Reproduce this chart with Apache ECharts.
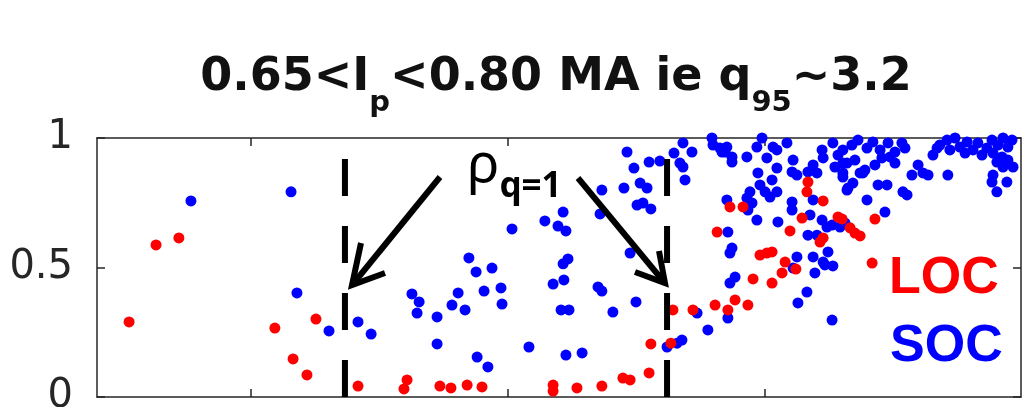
<!DOCTYPE html>
<html>
<head>
<meta charset="utf-8">
<script src="https://cdn.jsdelivr.net/npm/echarts@6/dist/echarts.min.js"></script>
<style>
html,body{margin:0;padding:0;background:#fff;}
#c{width:1033px;height:407px;}
</style>
</head>
<body>
<div id="c"></div>
<script>
// x axis range (labels are cut off in the reference) and tick positions
const xRange = [0, 3.6];
const xTickValues = [0.6, 1.6, 2.6];
const yRange = [0, 1];
const yInterval = 0.5;
// positions of the two rho_{q=1} dashed markers
const rhoQ1 = [0.966, 2.221];

// LOC points (red)
const locPoints = [
 [0.125,0.290],[0.230,0.587],[0.319,0.614],[0.693,0.266],[0.764,0.147],[0.853,0.301],[0.818,0.085],
 [1.017,0.042],[1.196,0.031],[1.208,0.066],[1.336,0.042],[1.379,0.035],[1.442,0.046],[1.500,0.039],
 [1.777,0.046],[1.777,0.023],[1.870,0.035],[1.967,0.042],[2.049,0.073],[2.077,0.066],[2.151,0.093],
 [2.158,0.205],[2.236,0.208],[2.244,0.336],[2.322,0.336],[2.408,0.355],[2.458,0.336],[2.486,0.375],
 [2.536,0.355],[2.556,0.456],[2.630,0.440],[2.669,0.479],[2.681,0.521],[2.723,0.494],[2.583,0.548],
 [2.610,0.556],[2.630,0.560],[2.416,0.637],[2.466,0.734],[2.517,0.734],[2.700,0.641],[2.747,0.691],
 [2.770,0.830],[2.766,0.792],[2.829,0.757],[2.829,0.614],[2.817,0.598],[2.887,0.695],[2.903,0.687],
 [2.934,0.653],[2.953,0.633],[2.973,0.622],[3.031,0.687],[3.020,0.517]
];

// SOC points (blue)
const socPoints = [
 [0.366,0.757],[0.756,0.792],[0.779,0.402],[0.904,0.255],[1.017,0.290],[1.068,0.243],[1.227,0.398],
 [1.255,0.367],[1.247,0.324],[1.325,0.309],[1.325,0.205],[1.383,0.355],[1.407,0.402],[1.434,0.336],
 [1.449,0.537],[1.477,0.483],[1.539,0.498],[1.508,0.409],[1.574,0.421],[1.578,0.359],[1.481,0.154],
 [1.523,0.116],[1.617,0.649],[1.683,0.193],[1.745,0.680],[1.796,0.660],[1.816,0.714],[1.827,0.641],
 [1.816,0.514],[1.835,0.533],[1.777,0.436],[1.819,0.452],[1.808,0.336],[1.839,0.336],[1.827,0.162],
 [1.890,0.170],[1.952,0.425],[1.967,0.409],[2.010,0.328],[2.100,0.367],[2.077,0.556],[2.065,0.946],
 [2.092,0.884],[2.151,0.907],[2.193,0.911],[2.053,0.807],[2.116,0.826],[2.143,0.807],[2.104,0.741],
 [2.127,0.749],[2.158,0.726],[1.967,0.799],[1.960,0.707],[2.248,0.942],[2.221,0.193],[2.260,0.208],
 [2.279,0.220],[2.283,0.981],[2.318,0.946],[2.271,0.903],[2.283,0.888],[2.291,0.838],[2.396,1.000],
 [2.400,0.973],[2.435,0.946],[2.454,0.965],[2.474,0.927],[2.474,0.907],[2.532,0.927],[2.571,0.965],
 [2.591,1.000],[2.610,0.923],[2.634,0.965],[2.649,0.954],[2.688,0.981],[2.712,0.915],[2.575,0.865],
 [2.630,0.838],[2.649,0.884],[2.583,0.819],[2.603,0.792],[2.622,0.772],[2.649,0.792],[2.544,0.792],
 [2.532,0.768],[2.552,0.749],[2.536,0.722],[2.454,0.761],[2.571,0.683],[2.708,0.869],[2.727,0.857],
 [2.708,0.753],[2.708,0.722],[2.653,0.676],[2.790,0.896],[2.805,0.865],[2.770,0.869],[2.790,0.761],
 [2.825,0.954],[2.829,0.923],[2.867,0.981],[2.887,0.934],[2.906,0.903],[2.875,0.888],[2.906,0.849],
 [2.922,0.799],[2.778,0.703],[2.825,0.683],[2.844,0.656],[2.895,0.656],[2.770,0.625],[2.805,0.625],
 [2.458,0.637],[2.474,0.575],[2.466,0.556],[2.727,0.541],[2.790,0.541],[2.829,0.521],[2.466,0.440],
 [2.486,0.463],[2.797,0.479],[2.836,0.510],[2.867,0.506],[2.766,0.405],[2.731,0.363],[2.864,0.297],
 [2.338,0.324],[2.458,0.305],[2.380,0.259],[2.712,0.498],[2.848,0.560],[2.817,0.614],[2.864,0.664],
 [2.914,0.672],[2.926,0.807],[2.945,0.826],[2.984,0.865],[2.992,0.876],[3.031,0.896],[3.000,0.761],
 [3.070,0.714],[3.043,0.819],[3.078,0.819],[3.140,0.792],[3.156,0.780],[3.175,0.857],[3.199,0.896],
 [3.218,0.865],[3.238,0.857],[3.315,0.857],[3.109,0.903],[3.257,0.934],[3.273,0.961],[2.906,0.954],
 [2.941,0.973],[2.965,0.992],[3.000,0.961],[3.023,0.985],[3.051,0.954],[3.082,0.981],[3.109,0.946],
 [3.136,0.981],[3.148,0.961],[2.922,0.903],[2.953,0.915],[2.906,0.865],[2.973,0.865],[3.058,0.923],
 [3.090,0.927],[3.312,0.992],[3.343,1.000],[3.362,0.965],[3.390,0.985],[3.413,0.954],[3.432,0.981],
 [3.467,0.961],[3.487,0.992],[3.510,0.973],[3.530,1.000],[3.549,0.965],[3.565,0.992],[3.323,0.954],
 [3.382,0.942],[3.448,0.934],[3.491,0.942],[3.526,0.927],[3.549,0.915],[3.569,0.888],[3.506,0.907],
 [3.530,0.888],[3.491,0.857],[3.487,0.830],[3.545,0.830],[3.506,0.792],[3.284,0.973],[2.427,0.961],
 [2.447,0.946]
];

const axisColor = '#262626';
const chart = echarts.init(document.getElementById('c'), null, {renderer: 'canvas'});

function xAx(pos) {
  return {
    type: 'value', position: pos, min: xRange[0], max: xRange[1],
    axisLine: {show: true, onZero: false, lineStyle: {color: axisColor, width: 1.5}},
    axisTick: {show: true, inside: true, length: 8, customValues: xTickValues, lineStyle: {color: axisColor, width: 1.5}},
    axisLabel: {show: false},
    splitLine: {show: false}
  };
}
function yAx(pos, labels) {
  return {
    type: 'value', position: pos, min: yRange[0], max: yRange[1], interval: yInterval,
    axisLine: {show: true, onZero: false, lineStyle: {color: axisColor, width: 1.5}},
    axisTick: {show: true, inside: true, length: 8, lineStyle: {color: axisColor, width: 1.5}},
    axisLabel: {show: labels, fontSize: 40, fontFamily: 'DejaVu Sans', color: axisColor, margin: 24},
    splitLine: {show: false}
  };
}

const dashSeries = rhoQ1.map(function (x) {
  return {
    type: 'line', data: [[x, yRange[0]], [x, yRange[1]]],
    showSymbol: false, symbol: 'none', silent: true, z: 5,
    lineStyle: {color: '#000', width: 6, type: [37, 30], cap: 'butt'}
  };
});

chart.setOption({
  animation: false,
  backgroundColor: '#fff',
  grid: {left: 97, right: 12, top: 138, bottom: 10, containLabel: false, outerBoundsMode: 'none'},
  xAxis: [xAx('bottom'), xAx('top')],
  yAxis: [yAx('left', true), yAx('right', false)],
  series: [
    {type: 'scatter', name: 'SOC', data: socPoints, symbolSize: 11, itemStyle: {color: '#0000ff', opacity: 1}, z: 2},
    {type: 'scatter', name: 'LOC', data: locPoints, symbolSize: 11, itemStyle: {color: '#ff0000', opacity: 1}, z: 3}
  ].concat(dashSeries),
  graphic: [
    {
      type: 'text', z: 100,
      style: {
        x: 556, y: 55, align: 'center', verticalAlign: 'top',
        text: '{m|0.65<I}{s|p}{m|<0.80 MA ie q}{s|95}{m|~3.2}',
        rich: {
          m: {fontSize: 46, fontWeight: 'bold', fontFamily: 'DejaVu Sans', lineHeight: 60, verticalAlign: 'top', fill: '#111'},
          s: {fontSize: 29, fontWeight: 'bold', fontFamily: 'DejaVu Sans', lineHeight: 60, verticalAlign: 'top', padding: [34, 0, 0, 0], fill: '#111'}
        }
      }
    },
    {
      type: 'text', z: 100,
      style: {
        x: 467, y: 140, align: 'left', verticalAlign: 'top',
        text: '{r|ρ}{q|q=1}',
        rich: {
          r: {fontSize: 54, fontFamily: 'Noto Sans', lineHeight: 70, verticalAlign: 'top', fill: '#000'},
          q: {fontSize: 35, fontWeight: 'bold', fontFamily: 'Noto Sans', lineHeight: 70, verticalAlign: 'top', padding: [30, 0, 0, 0], fill: '#000'}
        }
      }
    },
    {type: 'line', z: 100, shape: {x1: 440, y1: 177, x2: 353, y2: 284}, style: {stroke: '#000', lineWidth: 6}},
    {type: 'polyline', z: 100, shape: {points: [[361, 243], [352, 285], [385, 273]]}, style: {stroke: '#000', lineWidth: 6, fill: null, lineJoin: 'miter'}},
    {type: 'line', z: 100, shape: {x1: 578, y1: 178, x2: 664, y2: 282}, style: {stroke: '#000', lineWidth: 6}},
    {type: 'polyline', z: 100, shape: {points: [[635, 272], [665, 283], [659, 251]]}, style: {stroke: '#000', lineWidth: 6, fill: null, lineJoin: 'miter'}},
    {type: 'text', z: 100, style: {x: 889, y: 279, align: 'left', verticalAlign: 'middle', text: 'LOC', fontSize: 52, fontWeight: 'bold', fontFamily: 'Liberation Sans', fill: '#ff0000'}},
    {type: 'text', z: 100, style: {x: 890, y: 347, align: 'left', verticalAlign: 'middle', text: 'SOC', fontSize: 52, fontWeight: 'bold', fontFamily: 'Liberation Sans', fill: '#0000ff'}}
  ]
});
</script>
</body>
</html>
